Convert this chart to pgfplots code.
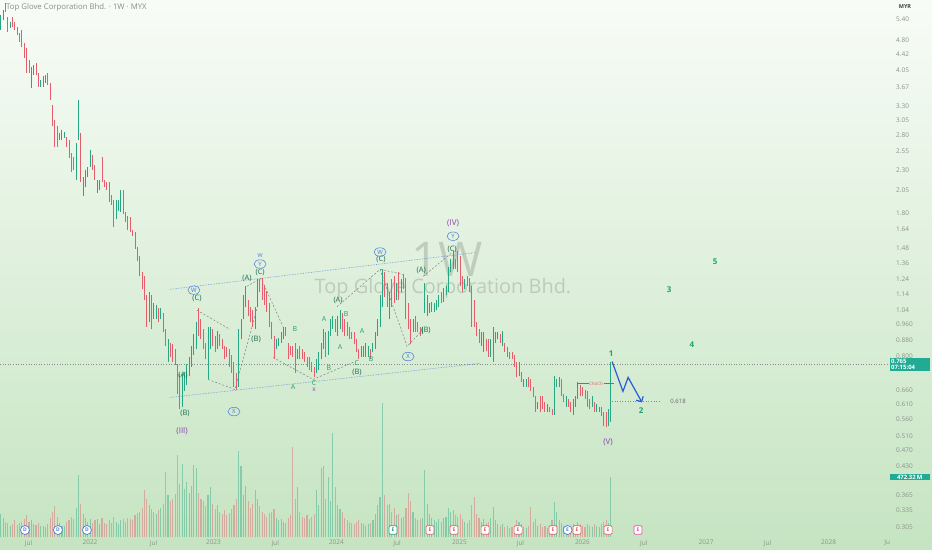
\documentclass[border=0pt]{standalone}
\usepackage{fontspec}
\setmainfont{Open Sans}
\usepackage{pgfplots}
\pgfplotsset{compat=1.18}
\usepackage{pgfplotstable}
\usetikzlibrary{shapes.geometric,arrows.meta}

\definecolor{bgtop}{HTML}{F8FCF7}
\definecolor{bgbot}{HTML}{C5E4C1}
\definecolor{cup}{HTML}{26A682}
\definecolor{cdn}{HTML}{E45D6A}
\definecolor{lblgray}{HTML}{8A948A}
\definecolor{dkgreen}{HTML}{1E6B50}
\definecolor{ltgreen}{HTML}{1FA36E}
\definecolor{purp}{HTML}{8E3FAF}
\definecolor{wblue}{HTML}{4A7BD8}
\definecolor{arrblue}{HTML}{2A5BD7}
\definecolor{tvteal}{HTML}{22AB94}

\pgfplotstableread{
w hi lo up vol
0 5.52 5.07 1 180
1 5.68 5.37 1 150
2 5.90 5.62 0 120
3 5.46 5.01 0 110
4 5.31 5.13 1 90
5 5.46 5.16 0 100
6 5.31 5.07 0 130
7 5.16 4.93 0 95
8 4.99 4.74 0 110
9 5.07 4.61 0 120
10 4.72 4.33 0 140
11 4.58 3.98 0 170
12 4.28 3.98 0 120
13 4.11 3.66 1 130
14 4.16 3.94 1 100
15 4.21 3.94 0 95
16 3.98 3.68 0 110
17 3.83 3.68 1 90
18 3.90 3.68 1 85
19 3.94 3.76 1 80
20 3.98 3.72 0 100
21 3.76 3.42 0 150
22 3.32 2.94 0 200
23 3.05 2.62 0 245
24 2.94 2.62 0 160
25 2.83 2.72 1 110
26 2.88 2.72 1 90
27 2.85 2.75 1 85
28 2.77 2.62 0 120
29 2.72 2.46 0 130
30 2.53 2.27 0 160
31 2.47 2.30 0 140
32 2.68 2.17 1 230
33 3.42 2.72 1 490
34 2.83 2.15 0 260
35 2.21 1.98 1 180
36 2.30 2.09 1 150
37 2.34 2.21 1 120
38 2.57 2.34 1 140
39 2.50 2.30 0 110
40 2.36 2.17 0 130
41 2.17 2.02 1 140
42 2.17 2.05 1 100
43 2.47 2.15 0 150
44 2.17 2.09 0 110
45 2.15 2.05 0 100
46 2.15 1.92 0 130
47 1.99 1.89 0 110
48 1.94 1.66 0 160
49 1.94 1.74 1 120
50 1.94 1.82 1 100
51 2.05 1.81 1 130
52 2.05 1.79 0 140
53 1.81 1.71 0 120
54 1.77 1.64 0 150
55 1.76 1.62 0 140
56 1.64 1.58 0 130
57 1.62 1.47 0 170
58 1.49 1.37 0 190
59 1.41 1.26 0 200
60 1.29 1.17 0 230
61 1.26 1.10 0 370
62 1.13 0.948 0 300
63 1.15 0.970 1 250
64 1.13 0.933 0 220
65 1.08 0.987 1 200
66 1.07 0.987 1 180
67 1.05 0.970 0 210
68 1.05 0.987 1 230
69 1.025 0.917 0 260
70 0.933 0.847 0 510
71 0.881 0.774 1 330
72 0.866 0.796 0 280
73 0.857 0.778 0 300
74 0.833 0.761 0 340
75 0.765 0.646 0 645
76 0.723 0.593 0 420
77 0.723 0.600 1 575
78 0.735 0.657 1 380
79 0.765 0.683 1 430
80 0.800 0.715 1 350
81 0.847 0.756 1 400
82 0.907 0.809 1 565
83 0.970 0.833 1 540
84 1.05 0.897 0 350
85 0.987 0.881 0 300
86 0.933 0.833 0 280
87 0.866 0.787 0 240
88 0.943 0.703 1 330
89 0.943 0.833 1 395
90 0.933 0.847 0 260
91 0.897 0.819 0 220
92 0.922 0.833 1 250
93 0.907 0.847 0 200
94 0.881 0.833 0 180
95 0.847 0.787 0 210
96 0.843 0.800 0 170
97 0.833 0.756 0 190
98 0.809 0.731 0 220
99 0.774 0.675 0 250
100 0.731 0.664 0 300
101 0.933 0.675 1 677
102 0.987 0.881 1 560
103 1.13 0.987 1 330
104 1.19 1.06 1 400
105 1.10 1.005 0 280
106 1.06 0.970 0 230
107 1.04 0.948 0 260
108 1.06 0.933 1 370
109 1.24 1.06 1 300
110 1.24 1.15 0 240
111 1.25 1.10 0 200
112 1.20 1.07 0 180
113 1.16 1.03 0 160
114 1.08 0.948 0 190
115 0.970 0.881 0 200
116 0.897 0.787 0 220
117 0.881 0.833 1 150
118 0.891 0.847 1 130
119 0.917 0.866 1 140
120 0.948 0.881 1 120
121 0.948 0.897 0 110
122 0.866 0.787 0 150
123 0.847 0.809 0 170
124 0.847 0.800 0 710
125 0.866 0.731 0 300
126 0.833 0.787 1 395
127 0.847 0.787 0 200
128 0.833 0.787 0 160
129 0.819 0.778 0 150
130 0.800 0.756 0 170
131 0.796 0.743 0 140
132 0.774 0.735 0 160
133 0.756 0.711 0 180
134 0.787 0.731 1 370
135 0.819 0.743 1 250
136 0.866 0.787 1 540
137 0.933 0.833 1 560
138 0.917 0.800 0 300
139 0.922 0.809 1 470
140 0.987 0.897 1 280
141 1.005 0.933 1 820
142 0.987 0.917 0 395
143 1.005 0.897 1 250
144 1.04 0.933 1 220
145 1.025 0.917 0 200
146 0.987 0.897 0 150
147 0.970 0.897 0 130
148 0.948 0.881 0 120
149 0.917 0.881 0 110
150 0.917 0.857 0 100
151 0.881 0.819 0 120
152 0.833 0.787 0 130
153 0.847 0.800 1 110
154 0.847 0.796 1 100
155 0.866 0.800 1 90
156 0.847 0.800 1 100
157 0.833 0.787 0 110
158 0.866 0.819 1 130
159 0.917 0.833 1 180
160 0.987 0.897 1 250
161 1.13 0.948 1 315
162 1.31 1.06 1 1055
163 1.29 1.12 0 330
164 1.21 1.06 0 250
165 1.15 0.987 1 260
166 1.24 1.06 0 200
167 1.26 1.08 0 230
168 1.21 1.10 1 170
169 1.29 1.10 0 180
170 1.24 1.15 1 150
171 1.27 1.17 0 160
172 1.25 0.987 0 230
173 1.08 0.933 0 345
174 0.987 0.857 0 280
175 0.987 0.917 1 200
176 1.005 0.917 0 150
177 0.970 0.917 0 130
178 0.948 0.897 0 140
179 0.948 0.907 1 150
180 1.21 1.025 1 527
181 1.13 1.005 1 260
182 1.08 1.025 1 180
183 1.09 1.03 1 150
184 1.08 1.03 1 130
185 1.10 1.04 1 120
186 1.13 1.06 1 140
187 1.15 1.08 0 120
188 1.18 1.09 1 150
189 1.19 1.13 1 160
190 1.33 1.15 1 230
191 1.39 1.29 1 200
192 1.45 1.31 1 210
193 1.39 1.31 0 170
194 1.45 1.29 0 160
195 1.41 1.19 0 180
196 1.26 1.15 0 140
197 1.24 1.17 1 120
198 1.26 1.19 0 110
199 1.25 1.15 0 130
200 1.19 0.948 0 250
201 1.10 0.948 0 315
202 0.970 0.897 0 180
203 0.933 0.866 0 150
204 0.917 0.847 1 120
205 0.917 0.819 1 140
206 0.881 0.824 0 110
207 0.881 0.800 0 120
208 0.881 0.800 1 150
209 0.948 0.778 1 236
210 0.917 0.866 1 130
211 0.917 0.881 1 100
212 0.907 0.866 0 90
213 0.922 0.847 1 100
214 0.866 0.819 0 80
215 0.843 0.800 0 90
216 0.819 0.787 0 70
217 0.819 0.787 0 80
218 0.809 0.756 0 90
219 0.774 0.711 0 130
220 0.774 0.715 1 120
221 0.735 0.691 0 100
222 0.703 0.675 1 80
223 0.703 0.675 1 70
224 0.711 0.672 0 90
225 0.703 0.657 0 236
226 0.675 0.635 0 120
227 0.639 0.586 0 140
228 0.617 0.593 1 90
229 0.639 0.583 0 100
230 0.639 0.593 0 80
231 0.617 0.583 0 90
232 0.610 0.586 1 70
233 0.603 0.583 0 80
234 0.593 0.576 0 130
235 0.715 0.576 1 275
236 0.703 0.672 1 200
237 0.711 0.672 1 130
238 0.703 0.639 0 110
239 0.646 0.617 0 90
240 0.639 0.603 1 80
241 0.628 0.600 0 70
242 0.617 0.583 0 90
243 0.628 0.576 1 100
244 0.639 0.603 1 90
245 0.691 0.628 1 120
246 0.683 0.639 0 100
247 0.675 0.639 0 90
248 0.664 0.628 0 80
249 0.657 0.603 0 100
250 0.628 0.593 0 90
251 0.639 0.603 1 80
252 0.617 0.583 0 100
253 0.610 0.583 1 90
254 0.603 0.583 1 80
255 0.603 0.570 0 100
256 0.583 0.539 0 120
257 0.583 0.536 0 130
258 0.593 0.539 1 110
259 0.778 0.554 1 472.32
}\data

\tikzset{
  EW/.style={font=\fontsize{7.5}{8}\selectfont, text=dkgreen, inner sep=0pt},
  ew/.style={font=\fontsize{7}{8}\selectfont, text=ltgreen, inner sep=0pt},
  EP/.style={font=\fontsize{8}{9}\selectfont, text=purp, inner sep=0pt},
  EC/.style={draw=wblue, text=wblue, ellipse, inner sep=0pt, line width=0.5bp,
     font=\fontsize{6}{6}\selectfont, minimum width=12bp, minimum height=8.5bp},
  num/.style={font=\fontsize{8}{9}\selectfont\bfseries, text=ltgreen, inner sep=0pt},
  dashz/.style={draw=black!50, dash pattern=on 2bp off 1.8bp, line width=0.5bp},
  Emk/.style={draw=#1, fill=white, text=#1, rounded corners=1.2bp, inner sep=0.6bp,
     minimum width=8bp, minimum height=8.5bp, line width=0.7bp, font=\fontsize{5}{5}\selectfont\bfseries},
  Dmk/.style={circle, draw=wblue, fill=white, text=wblue, inner sep=0pt,
     minimum size=9bp, line width=0.7bp, font=\fontsize{5}{5}\selectfont\bfseries}
}

\begin{document}
\begin{tikzpicture}
\shade[top color=bgtop, bottom color=bgbot] (0,0) rectangle (932bp,550bp);
% watermark
\node[text=black, opacity=0.15, font=\fontsize{48}{48}\selectfont] at (447bp,291bp) {1W};
\node[text=black, opacity=0.15, font=\fontsize{20}{20}\selectfont] at (443bp,262bp) {Top Glove Corporation Bhd.};

% ---------------- volume ----------------
\begin{axis}[at={(0,13bp)}, anchor=south west, scale only axis,
  width=888bp, height=137bp, xmin=-0.3, xmax=376.6, ymin=0, ymax=1078,
  axis line style={draw=none}, tick style={draw=none}, major tick length=0pt,
  ytick=\empty, clip=false, unbounded coords=discard,
  xtick={11.8,37.9,64.9,90.3,116.6,142.5,168.2,194.7,220.6,246.9,273.0,299.4,325.5,351.4,376.3},
  xticklabels={Jul,2022,Jul,2023,Jul,2024,Jul,2025,Jul,2026,Jul,2027,Jul,2028,Ju},
  xticklabel style={font=\fontsize{6.5}{7}\selectfont, text=lblgray, anchor=north, inner sep=0pt, yshift=-3bp}]
\addplot[ycomb, draw=cup, draw opacity=0.42, line width=1.1bp, mark=none]
  table[x=w, y expr={\thisrow{up}>0.5 ? \thisrow{vol} : nan}]{\data};
\addplot[ycomb, draw=cdn, draw opacity=0.42, line width=1.1bp, mark=none]
  table[x=w, y expr={\thisrow{up}<0.5 ? \thisrow{vol} : nan}]{\data};
% dividend / earnings markers
\node[Dmk] at (axis cs:10.3,55) {D};
\node[Dmk] at (axis cs:24.3,55) {D};
\node[Dmk] at (axis cs:36.6,55) {D};
\node[Emk=cup] at (axis cs:166.5,55) {E};
\node[Emk=cdn] at (axis cs:182.2,55) {E};
\node[Emk=cdn] at (axis cs:192.4,55) {E};
\node[Emk=cdn] at (axis cs:205.6,55) {E};
\node[Emk=cdn] at (axis cs:219.6,55) {E};
\node[Emk=cdn] at (axis cs:234.4,55) {E};
\node[Dmk] at (axis cs:240.6,55) {E};
\node[Emk=cdn] at (axis cs:244.6,55) {E};
\node[Emk=cdn] at (axis cs:257.8,55) {E};
\node[Emk=magenta!70] at (axis cs:270.5,55) {E};
% volume value tag
\node[fill=tvteal, text=white, font=\fontsize{6}{6}\selectfont\bfseries, inner sep=1.2bp,
  minimum width=40bp, anchor=west] at (axis cs:376.6,472.32) [xshift=1.5bp] {472.32\,M};
\end{axis}

% ---------------- price ----------------
\begin{axis}[at={(0,13bp)}, anchor=south west, scale only axis,
  width=888bp, height=537bp, xmin=-0.3, xmax=376.6,
  ymode=log, ymin=0.2883, ymax=6.01, clip=false, unbounded coords=discard,
  axis line style={draw=none}, tick style={draw=none}, major tick length=0pt,
  xtick=\empty,
  ytick={5.40,4.80,4.42,4.05,3.67,3.30,3.05,2.80,2.55,2.30,2.05,1.80,1.64,1.48,1.36,1.24,1.14,1.04,0.960,0.880,0.800,0.660,0.610,0.560,0.510,0.470,0.430,0.365,0.335,0.305},
  yticklabels={5.40,4.80,4.42,4.05,3.67,3.30,3.05,2.80,2.55,2.30,2.05,1.80,1.64,1.48,1.36,1.24,1.14,1.04,0.960,0.880,0.800,0.660,0.610,0.560,0.510,0.470,0.430,0.365,0.335,0.305},
  yticklabel pos=right,
  yticklabel style={font=\fontsize{6.5}{7}\selectfont, text=lblgray, anchor=west, inner sep=0pt, xshift=8bp}]

% current price line
\draw[black!45, dotted, line width=0.6bp] (axis cs:-0.3,0.765) -- (axis cs:376.6,0.765);

% channel lines
\draw[wblue!85, densely dotted, line width=0.6bp] (axis cs:71.9,1.17) -- (axis cs:201.3,1.44);
\draw[wblue!85, densely dotted, line width=0.6bp] (axis cs:71.9,0.635) -- (axis cs:203.4,0.770);

% wave zigzags
\draw[dashz] (axis cs:83.3,1.04) -- (axis cs:97.3,0.933);
\draw[dashz] (axis cs:88.0,0.703) -- (axis cs:99.4,0.664) -- (axis cs:109.2,1.07);
\draw[dashz] (axis cs:104.5,1.19) -- (axis cs:110.5,1.245) -- (axis cs:119.8,0.948);
\draw[dashz] (axis cs:115.6,0.796) -- (axis cs:132.6,0.703) -- (axis cs:150.4,0.778);
\draw[dashz] (axis cs:142.7,1.06) -- (axis cs:161.0,1.31) -- (axis cs:171.6,1.27);
\draw[dashz] (axis cs:161.0,1.31) -- (axis cs:172.5,0.847) -- (axis cs:179.3,0.933);
\draw[dashz] (axis cs:179.3,1.26) -- (axis cs:191.6,1.44);

% OHLC bars (high-low ranges)
\addplot[draw=none, mark=none,
  error bars/.cd, y dir=plus, y explicit, error mark=none,
  error bar style={draw=cup, line width=0.95bp}]
  table[x=w, y expr={\thisrow{up}>0.5 ? \thisrow{lo} : nan}, y error expr=\thisrow{hi}-\thisrow{lo}]{\data};
\addplot[draw=none, mark=none,
  error bars/.cd, y dir=plus, y explicit, error mark=none,
  error bar style={draw=cdn, line width=0.95bp}]
  table[x=w, y expr={\thisrow{up}<0.5 ? \thisrow{lo} : nan}, y error expr=\thisrow{hi}-\thisrow{lo}]{\data};

% Elliott labels
\node[EP] at (axis cs:77.0,0.524) {(III)};
\node[EP] at (axis cs:192.0,1.70) {(IV)};
\node[EP] at (axis cs:257.8,0.493) {(V)};
\node[EP, font=\fontsize{6.5}{7}\selectfont] at (axis cs:133.0,0.662) {x};

\node[EW] at (axis cs:77.4,0.719) {(A)};
\node[EW] at (axis cs:78.2,0.580) {(B)};
\node[EW] at (axis cs:83.3,1.11) {(C)};
\node[EW] at (axis cs:104.5,1.245) {(A)};
\node[EW] at (axis cs:108.4,0.881) {(B)};
\node[EW] at (axis cs:110.1,1.285) {(C)};
\node[EW] at (axis cs:143.2,1.10) {(A)};
\node[EW] at (axis cs:151.2,0.731) {(B)};
\node[EW] at (axis cs:161.4,1.385) {(C)};
\node[EW] at (axis cs:178.5,1.30) {(A)};
\node[EW] at (axis cs:180.5,0.927) {(B)};
\node[EW] at (axis cs:191.6,1.47) {(C)};

\node[ew] at (axis cs:124.9,0.933) {B};
\node[ew] at (axis cs:124.1,0.675) {A};
\node[ew] at (axis cs:133.0,0.690) {C};
\node[ew] at (axis cs:137.2,0.987) {A};
\node[ew] at (axis cs:146.6,1.015) {B};
\node[ew] at (axis cs:144.0,0.843) {A};
\node[ew] at (axis cs:139.3,0.748) {B};
\node[ew] at (axis cs:153.4,0.922) {A};
\node[ew] at (axis cs:151.2,0.772) {C};
\node[ew] at (axis cs:157.2,0.787) {B};

\node[EC] at (axis cs:82.0,1.165) {W};
\node[EC] at (axis cs:99.0,0.586) {X};
\node[text=wblue, inner sep=0pt, font=\fontsize{5.5}{6}\selectfont] at (axis cs:110.1,1.42) {W};
\node[EC] at (axis cs:110.1,1.35) {Y};
\node[EC] at (axis cs:161.0,1.445) {W};
\node[EC] at (axis cs:172.9,0.800) {X};
\node[EC] at (axis cs:192.0,1.58) {Y};

% projection
\node[num] at (axis cs:259.1,0.814) {1};
\node[num] at (axis cs:271.8,0.590) {2};
\node[num] at (axis cs:283.7,1.17) {3};
\node[num] at (axis cs:293.4,0.857) {4};
\node[num] at (axis cs:303.2,1.37) {5};
\draw[black!45, dotted, line width=0.6bp] (axis cs:259.5,0.621) -- (axis cs:279.8,0.621);
\node[text=black!60, inner sep=0pt, font=\fontsize{6}{6}\selectfont] at (axis cs:287.5,0.621) {0.618};
\draw[arrblue, line width=1.2bp, line join=miter, -{Straight Barb[length=4bp, width=8bp]}]
  (axis cs:259.5,0.778) -- (axis cs:264.1,0.657) -- (axis cs:266.3,0.711) -- (axis cs:272.2,0.617);
\draw[black!55, line width=0.5bp] (axis cs:244.6,0.672) -- (axis cs:244.6,0.687) -- (axis cs:260.4,0.687);
\node[fill=bgbot!70!bgtop, text=cdn, inner sep=0.5bp, font=\fontsize{4.5}{5}\selectfont] at (axis cs:252.7,0.687) {ChoCh};

% price tag
\node[fill=tvteal, text=white, font=\fontsize{6}{6.6}\selectfont\bfseries, inner xsep=1.5bp, inner ysep=1bp,
  anchor=west, align=left, text width=37bp] at (axis cs:376.6,0.765) [xshift=1.5bp] {0.765\\07:15:04};
\end{axis}

% header texts
\node[anchor=west, text=black!45, font=\fontsize{7.8}{8}\selectfont, inner sep=0pt] at (6bp,543bp) {Top Glove Corporation Bhd. · 1W · MYX};
\node[text=black!75, font=\fontsize{5.5}{6}\selectfont\bfseries, inner sep=0pt] at (905bp,543bp) {MYR};

\pgfresetboundingbox
\path[use as bounding box] (0,0) rectangle (932bp,550bp);
\end{tikzpicture}
\end{document}
